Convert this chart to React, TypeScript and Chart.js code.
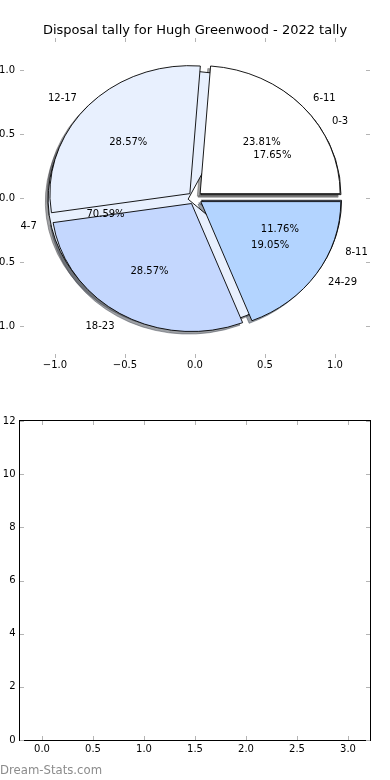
import React, { useEffect, useRef } from 'react';
import { Chart, registerables } from 'chart.js';

Chart.register(...registerables);

// ---------- data ----------
const chartTitle = 'Disposal tally for Hugh Greenwood - 2022 tally';
const outerCategories = ['6-11', '12-17', '18-23', '24-29'];
const outerValues = [5, 6, 6, 4];
const innerCategories = ['0-3', '4-7', '8-11'];
const innerValues = [3, 12, 2];
const pieTickValues = [-1, -0.5, 0, 0.5, 1];
const lowerXTicks = [0, 0.5, 1, 1.5, 2, 2.5, 3];
const lowerYTicks = [0, 2, 4, 6, 8, 10, 12];
const watermarkText = 'Dream-Stats.com';

// ---------- styles ----------
const outerColors = ['#ffffff', '#e8f0fe', '#c4d7fe', '#b3d4ff'];
const innerColors = ['#ffffff', '#e8f0fe', '#c4d7fe'];
const FONT = "'DejaVu Sans', sans-serif";
const EXPLODE = 0.05;
const LABEL_DIST = 1.1;
const PCT_DIST = 0.6;
const SHADOW_OFF = 0.02;
const TICK_COLOR = '#b4b4b4';
const TICK_LEN = 4;

function hexToRgb(h: string): number[] {
  const n = parseInt(h.slice(1), 16);
  return [(n >> 16) & 255, (n >> 8) & 255, n & 255];
}

type PieSpec = { cats: string[]; vals: number[]; colors: string[] };
const pies: PieSpec[] = [
  { cats: innerCategories, vals: innerValues, colors: innerColors },
  { cats: outerCategories, vals: outerValues, colors: outerColors },
];

function wedgesOf(p: PieSpec) {
  const total = p.vals.reduce((a, b) => a + b, 0);
  let t = 0;
  return p.vals.map((v, i) => {
    const t1 = t;
    const t2 = t + (2 * Math.PI * v) / total;
    t = t2;
    const mid = (t1 + t2) / 2;
    return {
      t1,
      t2,
      mid,
      ox: EXPLODE * Math.cos(mid),
      oy: EXPLODE * Math.sin(mid),
      color: p.colors[i],
      label: p.cats[i],
      pct: ((100 * v) / total).toFixed(2) + '%',
    };
  });
}

const piePlugin = {
  id: 'pieWedges',
  afterDatasetsDraw(chart: any) {
    const { ctx } = chart;
    const xs = chart.scales.x;
    const ys = chart.scales.y;
    const X = (v: number) => xs.getPixelForValue(v);
    const Y = (v: number) => ys.getPixelForValue(v);
    const rx = X(1) - X(0);
    const ry = Y(0) - Y(1);
    const all = pies.map(wedgesOf);
    const path = (w: any, dx: number, dy: number) => {
      const cx = X(w.ox + dx);
      const cy = Y(w.oy + dy);
      ctx.beginPath();
      ctx.moveTo(cx, cy);
      ctx.ellipse(cx, cy, rx, ry, 0, -w.t1, -w.t2, true);
      ctx.closePath();
    };
    ctx.save();
    ctx.lineJoin = 'miter';
    ctx.lineWidth = 0.9;
    // shadows
    all.forEach((ws) =>
      ws.forEach((w) => {
        const [r, g, b] = hexToRgb(w.color);
        const c = `rgba(${Math.round(r * 0.3)},${Math.round(g * 0.3)},${Math.round(b * 0.3)},0.5)`;
        path(w, -SHADOW_OFF, -SHADOW_OFF);
        ctx.fillStyle = c;
        ctx.fill();
        ctx.strokeStyle = c;
        ctx.stroke();
      })
    );
    // wedges
    all.forEach((ws) =>
      ws.forEach((w) => {
        path(w, 0, 0);
        ctx.fillStyle = w.color;
        ctx.fill();
        ctx.strokeStyle = '#000';
        ctx.stroke();
      })
    );
    // texts
    ctx.font = `10px ${FONT}`;
    ctx.fillStyle = '#000';
    ctx.textBaseline = 'middle';
    all.forEach((ws) =>
      ws.forEach((w) => {
        const lx = w.ox + LABEL_DIST * Math.cos(w.mid);
        const ly = w.oy + LABEL_DIST * Math.sin(w.mid);
        ctx.textAlign = lx > 0 ? 'left' : 'right';
        ctx.fillText(w.label, X(lx), Y(ly) + 1);
        const px = w.ox + PCT_DIST * Math.cos(w.mid);
        const py = w.oy + PCT_DIST * Math.sin(w.mid);
        ctx.textAlign = 'center';
        ctx.fillText(w.pct, X(px), Y(py) + 1);
      })
    );
    ctx.restore();
  },
};

const tickMarkPlugin = {
  id: 'tickMarks',
  afterDraw(chart: any) {
    const { ctx, chartArea: a } = chart;
    const xs = chart.scales.x;
    const ys = chart.scales.y;
    ctx.save();
    ctx.strokeStyle = TICK_COLOR;
    ctx.lineWidth = 1;
    ctx.beginPath();
    xs.ticks.forEach((t: any) => {
      const p = Math.round(xs.getPixelForValue(t.value)) + 0.5;
      ctx.moveTo(p, a.top);
      ctx.lineTo(p, a.top + TICK_LEN);
      ctx.moveTo(p, a.bottom);
      ctx.lineTo(p, a.bottom - TICK_LEN);
    });
    ys.ticks.forEach((t: any) => {
      const p = Math.round(ys.getPixelForValue(t.value)) + 0.5;
      ctx.moveTo(a.left, p);
      ctx.lineTo(a.left + TICK_LEN, p);
      ctx.moveTo(a.right, p);
      ctx.lineTo(a.right - TICK_LEN, p);
    });
    ctx.stroke();
    ctx.restore();
  },
};

const boxPlugin = {
  id: 'frameBox',
  afterDraw(chart: any) {
    const { ctx, chartArea: a } = chart;
    ctx.save();
    ctx.strokeStyle = '#000';
    ctx.lineWidth = 1;
    const l = Math.round(a.left) - 0.5;
    const r = Math.round(a.right) + 0.5;
    const t = Math.round(a.top) - 0.5;
    const b = Math.round(a.bottom) + 0.5;
    ctx.strokeRect(l, t, r - l, b - t);
    ctx.restore();
  },
};

const watermarkPlugin = {
  id: 'watermark',
  afterDraw(chart: any) {
    const { ctx } = chart;
    ctx.save();
    ctx.font = `11.7px ${FONT}`;
    ctx.fillStyle = '#8c8c8c';
    ctx.textAlign = 'left';
    ctx.textBaseline = 'alphabetic';
    ctx.fillText(watermarkText, 0, chart.height - 6);
    ctx.restore();
  },
};

const fmt1 = (v: number) => (v < 0 ? '\u2212' : '') + Math.abs(v).toFixed(1);

export default function App() {
  const topRef = useRef<HTMLCanvasElement>(null);
  const botRef = useRef<HTMLCanvasElement>(null);

  useEffect(() => {
    Chart.defaults.font.family = FONT;
    Chart.defaults.color = '#000';

    const top = new Chart(topRef.current as HTMLCanvasElement, {
      type: 'scatter',
      data: { datasets: [] },
      options: {
        animation: false,
        responsive: false,
        maintainAspectRatio: false,
        events: [],
        layout: { padding: { left: 0, right: 0, top: 0, bottom: 0 } },
        plugins: {
          legend: { display: false },
          tooltip: { enabled: false },
          title: {
            display: true,
            text: chartTitle,
            color: '#000',
            font: { size: 13, weight: 'normal', family: FONT },
            padding: { top: 22.4, bottom: 0 },
          },
        },
        scales: {
          x: {
            type: 'linear',
            min: -1.25,
            max: 1.25,
            grid: { display: false, drawTicks: false },
            border: { display: false },
            ticks: { padding: 1, color: '#000', font: { size: 10 }, callback: (v: any) => fmt1(Number(v)) },
            afterBuildTicks: (axis: any) => {
              axis.ticks = pieTickValues.map((value) => ({ value }));
            },
            afterFit: (s: any) => {
              s.height = 32;
            },
          },
          y: {
            type: 'linear',
            position: 'left',
            min: -1.25,
            max: 1.25,
            grid: { display: false, drawTicks: false },
            border: { display: false },
            ticks: { padding: 5, color: '#000', font: { size: 10 }, callback: (v: any) => fmt1(Number(v)) },
            afterBuildTicks: (axis: any) => {
              axis.ticks = pieTickValues.map((value) => ({ value }));
            },
            afterFit: (s: any) => {
              s.width = 20;
            },
          },
          yRight: {
            type: 'linear',
            position: 'right',
            min: -1.25,
            max: 1.25,
            grid: { display: false, drawTicks: false },
            border: { display: false },
            ticks: { display: false },
            afterFit: (s: any) => {
              s.width = 20;
            },
          },
        },
      } as any,
      plugins: [piePlugin, tickMarkPlugin],
    });

    const bottom = new Chart(botRef.current as HTMLCanvasElement, {
      type: 'scatter',
      data: { datasets: [] },
      options: {
        animation: false,
        responsive: false,
        maintainAspectRatio: false,
        events: [],
        layout: { padding: { left: 0, right: 20, top: 31, bottom: 0 } },
        plugins: {
          legend: { display: false },
          tooltip: { enabled: false },
          title: { display: false },
        },
        scales: {
          x: {
            type: 'linear',
            min: -0.216,
            max: 3.216,
            grid: { display: false, drawTicks: false },
            border: { display: false },
            ticks: { padding: 3.3, color: '#000', font: { size: 10 }, callback: (v: any) => fmt1(Number(v)) },
            afterBuildTicks: (axis: any) => {
              axis.ticks = lowerXTicks.map((value) => ({ value }));
            },
            afterFit: (s: any) => {
              s.height = 40;
            },
          },
          y: {
            type: 'linear',
            min: 0,
            max: 12,
            grid: { display: false, drawTicks: false },
            border: { display: false },
            ticks: { padding: 4.5, color: '#000', font: { size: 10 }, callback: (v: any) => String(v) },
            afterBuildTicks: (axis: any) => {
              axis.ticks = lowerYTicks.map((value) => ({ value }));
            },
            afterFit: (s: any) => {
              s.width = 20;
            },
          },
        },
      } as any,
      plugins: [boxPlugin, tickMarkPlugin, watermarkPlugin],
    });

    return () => {
      top.destroy();
      bottom.destroy();
    };
  }, []);

  return (
    <div style={{ position: 'absolute', left: 0, top: 0, width: 390, height: 780, background: '#fff' }}>
      <canvas ref={topRef} width={390} height={390} style={{ display: 'block' }} />
      <canvas ref={botRef} width={390} height={390} style={{ display: 'block' }} />
    </div>
  );
}
